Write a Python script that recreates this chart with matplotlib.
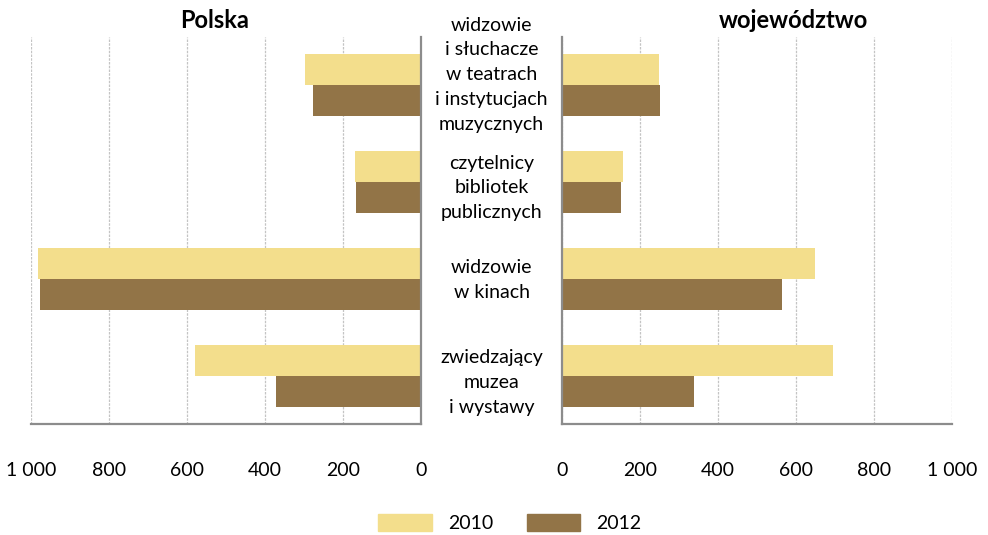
import matplotlib
matplotlib.use("Agg")
import matplotlib.pyplot as plt
from matplotlib.patches import Patch
from matplotlib.transforms import blended_transform_factory

plt.rcParams['font.family'] = ['Lato', 'DejaVu Sans']

categories = [
    "widzowie\ni słuchacze\nw teatrach\ni instytucjach\nmuzycznych",
    "czytelnicy\nbibliotek\npublicznych",
    "widzowie\nw kinach",
    "zwiedzający\nmuzea\ni wystawy",
]
polska_2010 = [297, 169, 982, 579]
polska_2012 = [277, 167, 977, 372]
woj_2010 = [249, 156, 649, 695]
woj_2012 = [251, 151, 564, 338]
ticks = [0, 200, 400, 600, 800, 1000]
tick_labels = ["0", "200", "400", "600", "800", "1 000"]

c2010 = "#F3DE8C"
c2012 = "#927447"
W, H = 988, 535
fs = 14

fig = plt.figure(figsize=(W / 100, H / 100), dpi=100)
ax_l = fig.add_axes([31 / W, 1 - 424 / H, 390 / W, 387 / H])
ax_r = fig.add_axes([562 / W, 1 - 424 / H, 390 / W, 387 / H])

pos = list(range(len(categories)))
bh = 0.32

for ax, v10, v12 in [(ax_l, polska_2010, polska_2012), (ax_r, woj_2010, woj_2012)]:
    ax.barh([p - bh / 2 for p in pos], v10, height=bh, color=c2010, zorder=2)
    ax.barh([p + bh / 2 for p in pos], v12, height=bh, color=c2012, zorder=2)
    ax.set_ylim(3.5, -0.5)
    ax.set_xlim(0, 1000)
    ax.set_xticks(ticks)
    ax.set_xticklabels(tick_labels)
    ax.set_yticks([])
    ax.tick_params(axis='x', length=0, pad=27, labelsize=fs)
    ax.grid(axis='x', color='#C4C4C4', linestyle=(0, (2, 1)), linewidth=0.9, zorder=0)
    for s in ['top', 'left', 'right', 'bottom']:
        ax.spines[s].set_visible(False)
    ax.spines['bottom'].set_visible(True)
    ax.spines['bottom'].set_color('#8C8C8C')
    ax.spines['bottom'].set_linewidth(1.6)

ax_l.invert_xaxis()
ax_l.spines['right'].set_visible(True)
ax_r.spines['left'].set_visible(True)
for sp in [ax_l.spines['right'], ax_r.spines['left']]:
    sp.set_color('#8C8C8C')
    sp.set_linewidth(1.6)

# category names between the two panels
label_shift = [-0.11, 0.06, 0.01, 0.07]
trans = blended_transform_factory(fig.transFigure, ax_l.transData)
for p, name, d in zip(pos, categories, label_shift):
    fig.text(491.5 / W, p + d, name, transform=trans, ha='center', va='center',
             fontsize=fs, linespacing=1.56)

fig.text(215 / W, 1 - 20 / H, "Polska", ha='center', va='center',
         fontsize=17, fontweight='bold')
fig.text(793 / W, 1 - 20 / H, "województwo", ha='center', va='center',
         fontsize=17, fontweight='bold')

handles = [Patch(color=c2010, label="2010"), Patch(color=c2012, label="2012")]
fig.legend(handles=handles, loc='center', bbox_to_anchor=(510 / W, 1 - 523 / H),
           ncol=2, frameon=False, fontsize=fs, handlelength=2.75, handleheight=1.0,
           columnspacing=1.7, handletextpad=0.85)

fig.savefig("out.png", dpi=100)
